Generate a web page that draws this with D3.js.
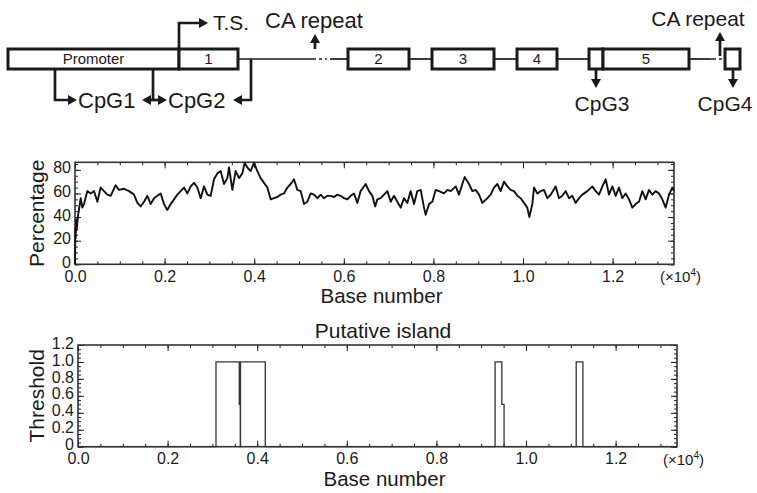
<!DOCTYPE html>
<html>
<head>
<meta charset="utf-8">
<script src="https://cdn.jsdelivr.net/npm/d3@7"></script>
<style>
body { margin: 0; background: #fff; }
text { font-family: "Liberation Sans", Arial, sans-serif; fill: #1a1a1a; }
</style>
</head>
<body>
<svg id="chart" width="757" height="493"></svg>
<script>
// ---- gene map (schematic units along the locus) ----
var boxNames = ["Promoter", "1", "2", "3", "4", "", "5", ""]
var boxStart = [8, 179, 348, 432, 517, 589, 603, 725]
var boxEnd   = [179, 238, 409, 494, 557, 603, 689, 740]
var intronFrom = [238, 330, 409, 494, 557, 689]
var intronTo   = [310, 348, 432, 517, 589, 710]
var repeatFrom = [310, 710]
var repeatTo   = [330, 725]
var repeatAt   = [315, 720]
var cpgNames = ["CpG1", "CpG2", "CpG3", "CpG4"]

// ---- GC percentage along the sequence ----
var baseNum = [0, 8, 15, 25, 35, 67, 127, 164, 201, 276, 350, 424, 499, 573, 648, 722, 796, 908, 982,
  1094, 1206, 1317, 1392, 1466, 1540, 1615, 1689, 1764, 1838, 1912, 1987, 2061, 2136, 2210, 2284,
  2359, 2433, 2508, 2582, 2656, 2731, 2805, 2880, 2954, 3028, 3103, 3177, 3252, 3326, 3400, 3438,
  3512, 3586, 3661, 3735, 3787, 3847, 3921, 3996, 4070, 4144, 4219, 4293, 4368, 4442, 4516, 4591,
  4665, 4740, 4814, 4888, 4963, 5037, 5112, 5186, 5260, 5335, 5409, 5484, 5558, 5632, 5707, 5781,
  5856, 5930, 6004, 6079, 6153, 6228, 6302, 6376, 6488, 6562, 6637, 6700, 6748, 6823, 6897, 6972,
  7046, 7120, 7195, 7269, 7344, 7418, 7492, 7567, 7641, 7716, 7790, 7827, 7902, 7976, 8050, 8125,
  8236, 8311, 8385, 8497, 8571, 8646, 8698, 8794, 8869, 8943, 9018, 9092, 9204, 9278, 9352, 9427,
  9501, 9576, 9650, 9724, 9799, 9873, 9948, 10022, 10096, 10141, 10208, 10245, 10320, 10394, 10468,
  10543, 10617, 10729, 10803, 10878, 10952, 11026, 11101, 11175, 11250, 11324, 11436, 11547, 11622,
  11696, 11770, 11845, 11919, 11994, 12068, 12142, 12217, 12291, 12366, 12440, 12514, 12589, 12663,
  12738, 12812, 12886, 12961, 13035, 13110, 13184, 13258, 13333, 13370]
var gcPct = [0, 30, 22, 38, 29, 41, 56, 48, 51, 62, 60, 62, 53, 65, 62, 59, 58, 67, 63,
  64, 62, 59, 52, 49, 53, 58, 51, 56, 58, 60, 51, 46, 51, 55, 59,
  62, 65, 60, 66, 69, 65, 56, 66, 59, 58, 72, 77, 79, 68, 73, 82,
  63, 79, 73, 77, 86, 82, 79, 86, 79, 73, 69, 65, 55, 56, 57, 59,
  60, 65, 68, 72, 63, 62, 51, 53, 60, 59, 56, 59, 56, 58, 58, 57,
  59, 58, 56, 55, 58, 60, 52, 62, 68, 62, 58, 49, 55, 56, 59, 62,
  53, 58, 53, 48, 56, 52, 62, 51, 62, 63, 48, 42, 51, 53, 63, 62,
  60, 63, 62, 66, 59, 68, 74, 68, 62, 63, 59, 52, 56, 59, 65, 68,
  62, 70, 66, 63, 62, 58, 56, 52, 48, 40, 51, 65, 60, 62, 63,
  56, 59, 66, 56, 58, 62, 56, 58, 52, 56, 59, 62, 66, 62,
  59, 66, 72, 59, 66, 58, 65, 56, 60, 55, 48, 51, 53, 62,
  55, 63, 59, 62, 60, 55, 48, 59, 65, 62]

// ---- putative island threshold (step trace) ----
var islandBase = [0, 3080, 3080, 3600, 3600, 3622, 3622, 3627, 3627, 4180, 4180,
  9310, 9310, 9460, 9460, 9510, 9510, 11120, 11120, 11270, 11270, 13370]
var islandVal = [0, 0, 1, 1, 0.5, 0.5, 0, 0, 1, 1, 0,
  0, 1, 1, 0.5, 0.5, 0, 0, 1, 1, 0, 0]

var xMajor = [0, 2000, 4000, 6000, 8000, 10000, 12000]
var xMinor = d3.range(0, 13371, 500)
var gcMajor = [0, 20, 40, 60, 80]
var gcMinor = d3.range(0, 86, 5)
var thrMajor = [0, 0.2, 0.4, 0.6, 0.8, 1.0, 1.2]
var thrMinor = d3.range(0, 1.21, 0.05)

var svg = d3.select("#chart")
var ink = "#1a1a1a"
var big = 21

// ---------- gene map ----------
var gx = d3.scaleLinear().domain([0, 757]).range([0, 757])
var rowY = 59, boxH = 20

var map = svg.append("g")

map.selectAll(".intron").data(intronFrom).enter().append("line")
  .attr("x1", function(d) { return gx(d) })
  .attr("x2", function(d, i) { return gx(intronTo[i]) })
  .attr("y1", rowY).attr("y2", rowY)
  .attr("stroke", ink).attr("stroke-width", 1.7)

map.selectAll(".repeat").data(repeatFrom).enter().append("line")
  .attr("x1", function(d) { return gx(d) })
  .attr("x2", function(d, i) { return gx(repeatTo[i]) })
  .attr("y1", rowY).attr("y2", rowY)
  .attr("stroke", ink).attr("stroke-width", 1.7)
  .attr("stroke-dasharray", "6,3,3,3,2,3")

map.selectAll(".box").data(boxStart).enter().append("rect")
  .attr("x", function(d) { return gx(d) })
  .attr("y", rowY - boxH / 2)
  .attr("width", function(d, i) { return gx(boxEnd[i]) - gx(d) })
  .attr("height", boxH)
  .attr("fill", "#fff").attr("stroke", ink).attr("stroke-width", 3)

map.selectAll(".boxlabel").data(boxNames).enter().append("text")
  .attr("x", function(d, i) { return (gx(boxStart[i]) + gx(boxEnd[i])) / 2 })
  .attr("y", rowY).attr("dy", "0.36em")
  .attr("text-anchor", "middle")
  .attr("font-size", 15)
  .text(function(d) { return d })

function head(x, y, dir) {
  var L = 9, W = 5, pts
  if (dir == "right") pts = [[x, y], [x - L, y - W], [x - L, y + W]]
  if (dir == "left") pts = [[x, y], [x + L, y - W], [x + L, y + W]]
  if (dir == "up") pts = [[x, y], [x - W, y + L], [x + W, y + L]]
  if (dir == "down") pts = [[x, y], [x - W, y - L], [x + W, y - L]]
  map.append("polygon").attr("points", pts.join(" ")).attr("fill", ink)
}
function wire(d) {
  map.append("path").attr("d", d).attr("fill", "none")
    .attr("stroke", ink).attr("stroke-width", 2.7)
}

var boxTop = rowY - boxH / 2, boxBot = rowY + boxH / 2

// transcription start
wire("M" + gx(179) + "," + boxTop + "V23H" + (gx(208) - 8))
head(gx(208), 23, "right")
map.append("text").attr("x", gx(213)).attr("y", 30).attr("font-size", big).text("T.S.")

// CA repeats
repeatAt.forEach(function(p, i) {
  var top = i == 0 ? 34 : 32
  wire("M" + gx(p) + "," + (i == 0 ? 49 : 56) + "V" + (top + 8))
  head(gx(p), top, "up")
})
map.append("text").attr("x", gx(314)).attr("y", 28).attr("text-anchor", "middle")
  .attr("font-size", 22).text("CA repeat")
map.append("text").attr("x", gx(698)).attr("y", 26).attr("text-anchor", "middle")
  .attr("font-size", big).text("CA repeat")

// CpG islands
var arrowY = 100
wire("M" + gx(55) + "," + boxBot + "V" + arrowY + "H" + (gx(77) - 8))
head(gx(77), arrowY, "right")
wire("M" + gx(153) + "," + boxBot + "V" + arrowY)
wire("M" + (gx(142) + 8) + "," + arrowY + "H" + (gx(167) - 8))
head(gx(142), arrowY, "left")
head(gx(167), arrowY, "right")
wire("M" + gx(251) + "," + rowY + "V" + arrowY + "H" + (gx(233) + 8))
head(gx(233), arrowY, "left")
wire("M" + gx(596) + "," + boxBot + "V80")
head(gx(596), 88, "down")
wire("M" + gx(733) + "," + boxBot + "V80")
head(gx(733), 88, "down")

map.append("text").attr("x", gx(78)).attr("y", arrowY).attr("dy", "0.36em")
  .attr("font-size", 22).text(cpgNames[0])
map.append("text").attr("x", gx(168)).attr("y", arrowY).attr("dy", "0.36em")
  .attr("font-size", 22).text(cpgNames[1])
map.append("text").attr("x", gx(602)).attr("y", 111).attr("text-anchor", "middle")
  .attr("font-size", big).text(cpgNames[2])
map.append("text").attr("x", gx(725)).attr("y", 111).attr("text-anchor", "middle")
  .attr("font-size", big).text(cpgNames[3])

// ---------- framed plots ----------
function framePanel(x, y, yMajor, yMinor, yFmt, title) {
  var x0 = x.range()[0], x1 = x.range()[1], y0 = y.range()[0], y1 = y.range()[1]
  var g = svg.append("g")
  var xf = function(d) { return (d / 10000).toFixed(1) }

  function ax(a, t) {
    var s = g.append("g").attr("transform", t).call(a)
    s.select(".domain").remove()
    s.selectAll("line").attr("stroke", ink).attr("stroke-width", 1)
    s.selectAll("text").attr("font-size", 16).attr("fill", ink)
      .attr("font-family", "Liberation Sans, Arial, sans-serif")
    return s
  }
  ax(d3.axisBottom(x).tickValues(xMajor).tickSize(-6).tickPadding(6).tickFormat(xf), "translate(0," + y0 + ")")
  ax(d3.axisBottom(x).tickValues(xMinor).tickSize(-3).tickFormat(""), "translate(0," + y0 + ")")
  ax(d3.axisTop(x).tickValues(xMajor).tickSize(-6).tickFormat(""), "translate(0," + y1 + ")")
  ax(d3.axisTop(x).tickValues(xMinor).tickSize(-3).tickFormat(""), "translate(0," + y1 + ")")
  ax(d3.axisLeft(y).tickValues(yMajor).tickSize(-6).tickPadding(4).tickFormat(yFmt), "translate(" + x0 + ",-2)")
    .selectAll("line").attr("transform", "translate(0,2)")
  ax(d3.axisLeft(y).tickValues(yMinor).tickSize(-3).tickFormat(""), "translate(" + x0 + ",0)")
  ax(d3.axisRight(y).tickValues(yMajor).tickSize(-6).tickFormat(""), "translate(" + x1 + ",0)")
  ax(d3.axisRight(y).tickValues(yMinor).tickSize(-3).tickFormat(""), "translate(" + x1 + ",0)")

  g.append("rect").attr("x", x0).attr("y", y1).attr("width", x1 - x0).attr("height", y0 - y1)
    .attr("fill", "none").attr("stroke", "#333").attr("stroke-width", 1.6)

  g.append("text").attr("x", (x0 + x1) / 2 + 7).attr("y", y0 + 39).attr("text-anchor", "middle")
    .attr("font-size", 20.5).text("Base number")
  g.append("text").attr("transform", "translate(" + 44 + "," + (y0 + y1) / 2 + ") rotate(-90)")
    .attr("text-anchor", "middle").attr("font-size", big).text(title)
  var mult = g.append("text").attr("x", x1 - 14).attr("y", y0 + 18).attr("font-size", 15)
  mult.append("tspan").text("(\u00d710")
  mult.append("tspan").attr("font-size", 10).attr("dy", -6).text("4")
  mult.append("tspan").attr("dy", 6).text(")")
  return g
}

// GC percentage panel
var x1s = d3.scaleLinear().domain([0, 13370]).range([75, 674])
var y1s = d3.scaleLinear().domain([0, 86.4]).range([264.3, 162.3])
var p1 = framePanel(x1s, y1s, gcMajor, gcMinor, d3.format("d"), "Percentage")
var gcLine = d3.line()
  .x(function(d, i) { return x1s(baseNum[i]) })
  .y(function(d) { return y1s(d) })
p1.append("path").datum(gcPct).attr("d", gcLine)
  .attr("fill", "none").attr("stroke", "#111").attr("stroke-width", 1.9)
  .attr("stroke-linejoin", "round")

// putative island panel
var x2s = d3.scaleLinear().domain([0, 13370]).range([78, 677])
var y2s = d3.scaleLinear().domain([0, 1.2]).range([446.7, 345])
var p2 = framePanel(x2s, y2s, thrMajor, thrMinor,
  function(d) { return d == 0 ? "0" : d.toFixed(1) }, "Threshold")
var islandLine = d3.line()
  .x(function(d, i) { return x2s(islandBase[i]) })
  .y(function(d) { return y2s(d) })
p2.append("path").datum(islandVal).attr("d", islandLine)
  .attr("fill", "none").attr("stroke", "#333").attr("stroke-width", 1.3)
p2.append("text").attr("x", 383).attr("y", 338).attr("text-anchor", "middle")
  .attr("font-size", big).text("Putative island")
</script>
</body>
</html>
